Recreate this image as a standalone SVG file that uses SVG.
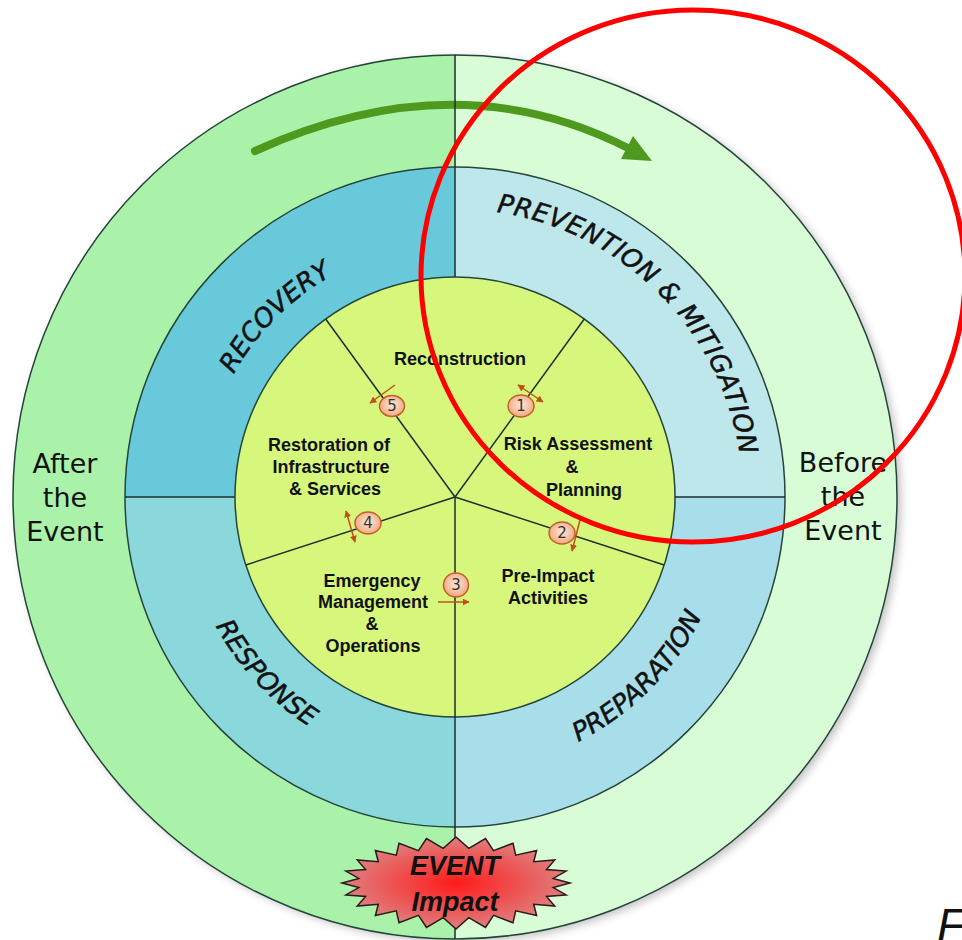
<svg xmlns="http://www.w3.org/2000/svg" width="962" height="940" viewBox="0 0 962 940">
<style>
.ring{stroke:#25443a;stroke-width:1.5}
.div{stroke:#1e2e2a;stroke-width:1.5;fill:none}
.lbl{font-family:"Liberation Sans",Arial,sans-serif;font-weight:bold;font-size:18px;fill:#111;text-anchor:middle}
.phase{font-family:"DejaVu Sans",Verdana,sans-serif;font-style:italic;font-size:26px;fill:#111;stroke:#111;stroke-width:0.5}
.side{font-family:"DejaVu Sans",Verdana,sans-serif;font-size:27px;fill:#111;text-anchor:middle}
.num{fill:url(#numGrad);stroke:#c0602a;stroke-width:1.5}
.numt{font-family:"DejaVu Sans",sans-serif;font-size:15px;fill:#333;text-anchor:middle}
.oarrow{stroke:#c0501a;stroke-width:1.5;fill:none}
</style>
<defs>
<radialGradient id="numGrad" cx="50%" cy="45%" r="60%">
<stop offset="0" stop-color="#fde8dc"/>
<stop offset="1" stop-color="#f0a274"/>
</radialGradient>
<radialGradient id="burstGrad" cx="50%" cy="50%" r="55%">
<stop offset="0" stop-color="#ff1a1a"/>
<stop offset="1" stop-color="#dc8a8a"/>
</radialGradient>
<filter id="shadow" x="-10%" y="-10%" width="120%" height="120%">
<feGaussianBlur stdDeviation="4"/>
</filter>
<marker id="oh" viewBox="0 0 10 10" refX="9" refY="5" markerWidth="7" markerHeight="7" markerUnits="userSpaceOnUse" orient="auto-start-reverse">
<path d="M0,0 L10,5 L0,10 Z" fill="#c0501a"/>
</marker>
<path id="pRecovery" d="M247.7,642.1 A253,253 0 0 1 600.1,289.7"/>
<path id="pPrevention" d="M289.8,261.1 A288,288 0 0 1 690.9,662.2"/>
<path id="pPreparation" d="M299.8,722.8 A274,274 0 0 0 678.1,337.9"/>
<path id="pResponse" d="M237.8,333.3 A272,272 0 0 0 603.1,725.1"/>
</defs>

<g id="outer-ring">
<circle cx="459" cy="500" r="442" fill="#777" opacity="0.45" filter="url(#shadow)"/>
<path d="M455,55 A442,442 0 0 0 455,939 Z" fill="#aaf2a9"/>
<path d="M455,55 A442,442 0 0 1 455,939 Z" fill="#d7fcd6"/>
<circle cx="455" cy="497" r="442" fill="none" class="ring"/>
</g>

<g id="after-event">
<text class="side" x="65" y="473">After</text>
<text class="side" x="65" y="507">the</text>
<text class="side" x="65" y="541">Event</text>
</g>
<g id="before-event">
<text class="side" x="843" y="472">Before</text>
<text class="side" x="843" y="506">the</text>
<text class="side" x="843" y="540">Event</text>
</g>

<g id="cycle-arrow">
<path d="M255,151 Q455,60 628,148" fill="none" stroke="#4e9a1f" stroke-width="8" stroke-linecap="round"/>
<polygon points="652,161 621,159 633,136" fill="#4e9a1f"/>
</g>

<g id="recovery">
<path d="M455,497 L125,497 A330,330 0 0 1 455,167 Z" fill="#67c9d9"/>
<text class="phase"><textPath href="#pRecovery" startOffset="50%" text-anchor="middle">RECOVERY</textPath></text>
</g>
<g id="prevention-mitigation">
<path d="M455,497 L455,167 A330,330 0 0 1 785,497 Z" fill="#bde7eb"/>
<text class="phase" letter-spacing="0.5"><textPath href="#pPrevention" startOffset="50%" text-anchor="middle">PREVENTION &amp; MITIGATION</textPath></text>
</g>
<g id="preparation">
<path d="M455,497 L785,497 A330,330 0 0 1 455,827 Z" fill="#a8deea"/>
<text class="phase"><textPath href="#pPreparation" startOffset="50%" text-anchor="middle">PREPARATION</textPath></text>
</g>
<g id="response">
<path d="M455,497 L455,827 A330,330 0 0 1 125,497 Z" fill="#8bd8dc"/>
<text class="phase"><textPath href="#pResponse" startOffset="50%" text-anchor="middle">RESPONSE</textPath></text>
</g>
<circle cx="455" cy="497" r="330" fill="none" class="ring"/>

<g id="inner-circle">
<circle cx="455" cy="497" r="220" fill="#d6f77c" class="ring"/>
</g>
<g id="reconstruction"><text class="lbl" x="460" y="365">Reconstruction</text></g>
<g id="risk-assessment">
<text class="lbl" x="578" y="450">Risk Assessment</text>
<text class="lbl" x="572" y="473">&amp;</text>
<text class="lbl" x="584" y="496">Planning</text>
</g>
<g id="pre-impact">
<text class="lbl" x="548" y="582">Pre-Impact</text>
<text class="lbl" x="548" y="604">Activities</text>
</g>
<g id="emergency-management">
<text class="lbl" x="372" y="587">Emergency</text>
<text class="lbl" x="373" y="608">Management</text>
<text class="lbl" x="372" y="630">&amp;</text>
<text class="lbl" x="373" y="652">Operations</text>
</g>
<g id="restoration">
<text class="lbl" x="329" y="451">Restoration of</text>
<text class="lbl" x="331" y="473">Infrastructure</text>
<text class="lbl" x="335" y="495">&amp; Services</text>
</g>

<g id="connectors">
<line class="div" x1="455" y1="55" x2="455" y2="277"/>
<line class="div" x1="455" y1="497" x2="455" y2="939"/>
<line class="div" x1="125" y1="497" x2="235" y2="497"/>
<line class="div" x1="675" y1="497" x2="785" y2="497"/>
<line class="div" x1="455" y1="497" x2="584.3" y2="319"/>
<line class="div" x1="455" y1="497" x2="664.2" y2="565"/>
<line class="div" x1="455" y1="497" x2="245.8" y2="565"/>
<line class="div" x1="455" y1="497" x2="325.7" y2="319"/>

<line class="oarrow" x1="518" y1="385" x2="543" y2="402" marker-start="url(#oh)" marker-end="url(#oh)"/>
<line class="oarrow" x1="395" y1="385" x2="370" y2="403" marker-end="url(#oh)"/>
<line class="oarrow" x1="346" y1="511" x2="355" y2="542" marker-start="url(#oh)" marker-end="url(#oh)"/>
<line class="oarrow" x1="580" y1="520" x2="572" y2="551" marker-end="url(#oh)"/>
<line class="oarrow" x1="438" y1="602" x2="469" y2="602" marker-end="url(#oh)"/>
</g>

<g id="step-1"><ellipse class="num" cx="521" cy="406" rx="13" ry="11"/><text class="numt" x="521" y="411">1</text></g>
<g id="step-2"><ellipse class="num" cx="562" cy="533" rx="13" ry="11"/><text class="numt" x="562" y="538">2</text></g>
<g id="step-3"><ellipse class="num" cx="456" cy="585" rx="12.5" ry="12"/><text class="numt" x="456" y="590">3</text></g>
<g id="step-4"><ellipse class="num" cx="368" cy="523" rx="13" ry="11"/><text class="numt" x="368" y="528">4</text></g>
<g id="step-5"><ellipse class="num" cx="392" cy="406" rx="12.5" ry="10.5"/><text class="numt" x="392" y="411">5</text></g>

<g id="event-impact">
<polygon fill="url(#burstGrad)" stroke="#2a1a1a" stroke-width="1.5" points="570,883 553.2,887.6 566.1,894.9 546.5,896.4 554.7,906 533.7,904.3 536.6,915.5 515.7,910.8 513,922.8 493.5,915.3 485.5,927.4 468.8,917.7 456,929 443.2,917.7 426.5,927.4 418.5,915.3 399,922.8 396.3,910.8 375.4,915.5 378.3,904.3 357.3,906 365.5,896.4 345.9,894.9 358.8,887.6 342,883 358.8,878.4 345.9,871.1 365.5,869.6 357.3,860 378.3,861.7 375.4,850.5 396.3,855.2 399,843.2 418.5,850.7 426.5,838.6 443.2,848.3 456,837 468.8,848.3 485.5,838.6 493.5,850.7 513,843.2 515.7,855.2 536.6,850.5 533.7,861.7 554.7,860 546.5,869.6 566.1,871.1 553.2,878.4"/>
<text x="455" y="875" font-family="Liberation Sans, Arial, sans-serif" font-weight="bold" font-style="italic" font-size="27" fill="#111" text-anchor="middle">EVENT</text>
<text x="455" y="911" font-family="Liberation Sans, Arial, sans-serif" font-weight="bold" font-style="italic" font-size="27" fill="#111" text-anchor="middle">Impact</text>
</g>

<g id="highlight">
<ellipse cx="693" cy="276" rx="272" ry="266" fill="none" stroke="#ff0000" stroke-width="5"/>
</g>

<g id="caption">
<text x="937" y="941" font-family="Liberation Sans, Arial, sans-serif" font-style="italic" font-size="46" fill="#111">F</text>
</g>
</svg>
